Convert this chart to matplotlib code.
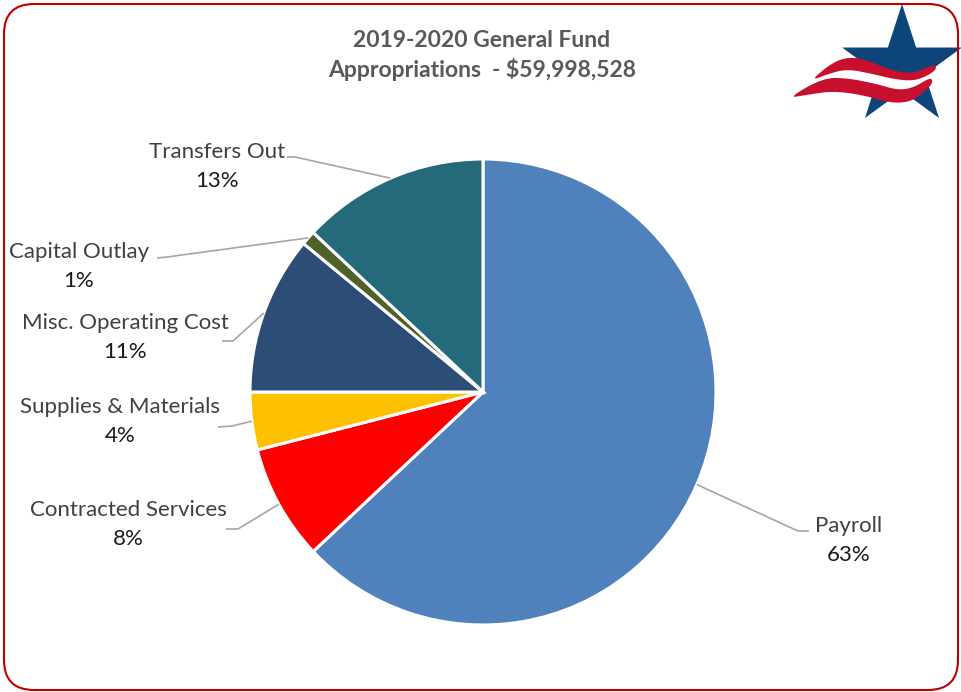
import numpy as np
import matplotlib
matplotlib.use('Agg')
import matplotlib.pyplot as plt
from matplotlib.patches import FancyBboxPatch, Polygon

plt.rcParams['font.family'] = ['Lato', 'DejaVu Sans']

# appropriations by category (percent of general fund)
categorias = ['Payroll', 'Contracted Services', 'Supplies & Materials',
              'Misc. Operating Cost', 'Capital Outlay', 'Transfers Out']
porcentajes = [63, 8, 4, 11, 1, 13]
colores = ['#4F81BD', '#FF0000', '#FFC000', '#2C4D75', '#4F6228', '#256A7A']

titulo = '2019-2020 General Fund\nAppropriations  - $59,998,528'

# label placement (pixels from top-left): text x, name baseline, elbow start/end
etiquetas = {
    'Payroll':              (849, 532, (809, 531), (798, 531)),
    'Contracted Services':  (128, 516, (226, 529), (238, 529)),
    'Supplies & Materials': (120, 413, (218, 427), (232, 426)),
    'Misc. Operating Cost': (125, 329, (222, 341), (233, 341)),
    'Capital Outlay':       (79, 258, (157, 258), (167, 257)),
    'Transfers Out':        (217, 158, (287, 157), (295, 157)),
}

W, H = 962, 692
cx, cy, R = 483, 392, 233


def px(x, y):
    # pixel coords (y down) -> axes data coords (y up)
    return x, H - y


def chaikin(pts, n=4):
    pts = np.asarray(pts, float)
    for _ in range(n):
        p = np.vstack([pts, pts[:1]])
        q = 0.75 * p[:-1] + 0.25 * p[1:]
        r = 0.25 * p[:-1] + 0.75 * p[1:]
        pts = np.empty((2 * len(q), 2))
        pts[0::2] = q
        pts[1::2] = r
    return pts


fig = plt.figure(figsize=(W / 100, H / 100), dpi=100)
ax = fig.add_axes([0, 0, 1, 1])

ax.pie(porcentajes, colors=colores, startangle=90, counterclock=False,
       center=px(cx, cy), radius=R,
       wedgeprops=dict(edgecolor='white', linewidth=2.2))

# data labels with leader lines
acum = 0
for cat, val in zip(categorias, porcentajes):
    mid = acum + val / 2.0
    acum += val
    ang = np.deg2rad(90 - 360 * mid / 100.0)
    ex, ey = cx + R * np.cos(ang), cy - R * np.sin(ang)
    tx, ty, p0, p1 = etiquetas[cat]
    xs = [p0[0], p1[0], ex]
    ys = [H - p0[1], H - p1[1], H - ey]
    ax.plot(xs, ys, color='#A6A6A6', lw=1.2, solid_capstyle='butt')
    ax.text(tx, H - ty, cat, ha='center', va='baseline', fontsize=16,
            color='#404040')
    ax.text(tx, H - ty - 29, '%d%%' % val, ha='center', va='baseline',
            fontsize=16, color='#1A1A1A')

ax.text(482, H - 47, titulo.split('\n')[0], ha='center', va='baseline',
        fontsize=16.5, fontweight='bold', color='#595959')
ax.text(482, H - 77, titulo.split('\n')[1], ha='center', va='baseline',
        fontsize=16.5, fontweight='bold', color='#595959')

# star logo
sx, sy, Ro = 902, 67, 63
ang = np.deg2rad(90 + np.arange(10) * 36)
rad = np.where(np.arange(10) % 2 == 0, Ro, Ro * 0.382)
estrella = np.column_stack([sx + rad * np.cos(ang), H - (sy - rad * np.sin(ang))])
ax.add_patch(Polygon(estrella, closed=True, fc='#0B4579', ec='none', zorder=5))

franja_sup = [(810, 81), (833, 62), (850, 57), (867, 60), (890, 70), (913, 74),
              (934, 64), (937, 69), (927, 76), (913, 81), (893, 79), (873, 74),
              (847, 69), (828, 74)]
franja_inf = [(788, 98), (823, 78), (847, 78), (877, 84), (897, 90), (913, 88),
              (931, 77), (933, 83), (923, 93), (910, 102), (890, 103), (863, 95),
              (833, 91), (806, 95)]
banda = [(845, 67), (873, 72), (893, 77), (913, 79), (929, 72),
         (931, 80), (913, 89), (897, 91), (877, 85), (847, 79)]
for pts, col in [(banda, 'white'), (franja_sup, '#C8102E'), (franja_inf, '#C8102E')]:
    p = np.array(pts, float)
    p[:, 1] = H - p[:, 1]
    ax.add_patch(Polygon(chaikin(p, 2), closed=True, fc=col, ec='none', zorder=6))

# rounded red frame
ax.add_patch(FancyBboxPatch((4, 2), 954, 686,
                            boxstyle='round,pad=0,rounding_size=30',
                            fc='none', ec='#C00000', lw=1.5, zorder=7,
                            clip_on=False))

ax.set_xlim(0, W)
ax.set_ylim(0, H)
ax.set_aspect('auto')
ax.axis('off')

fig.savefig('out.png', dpi=100)
